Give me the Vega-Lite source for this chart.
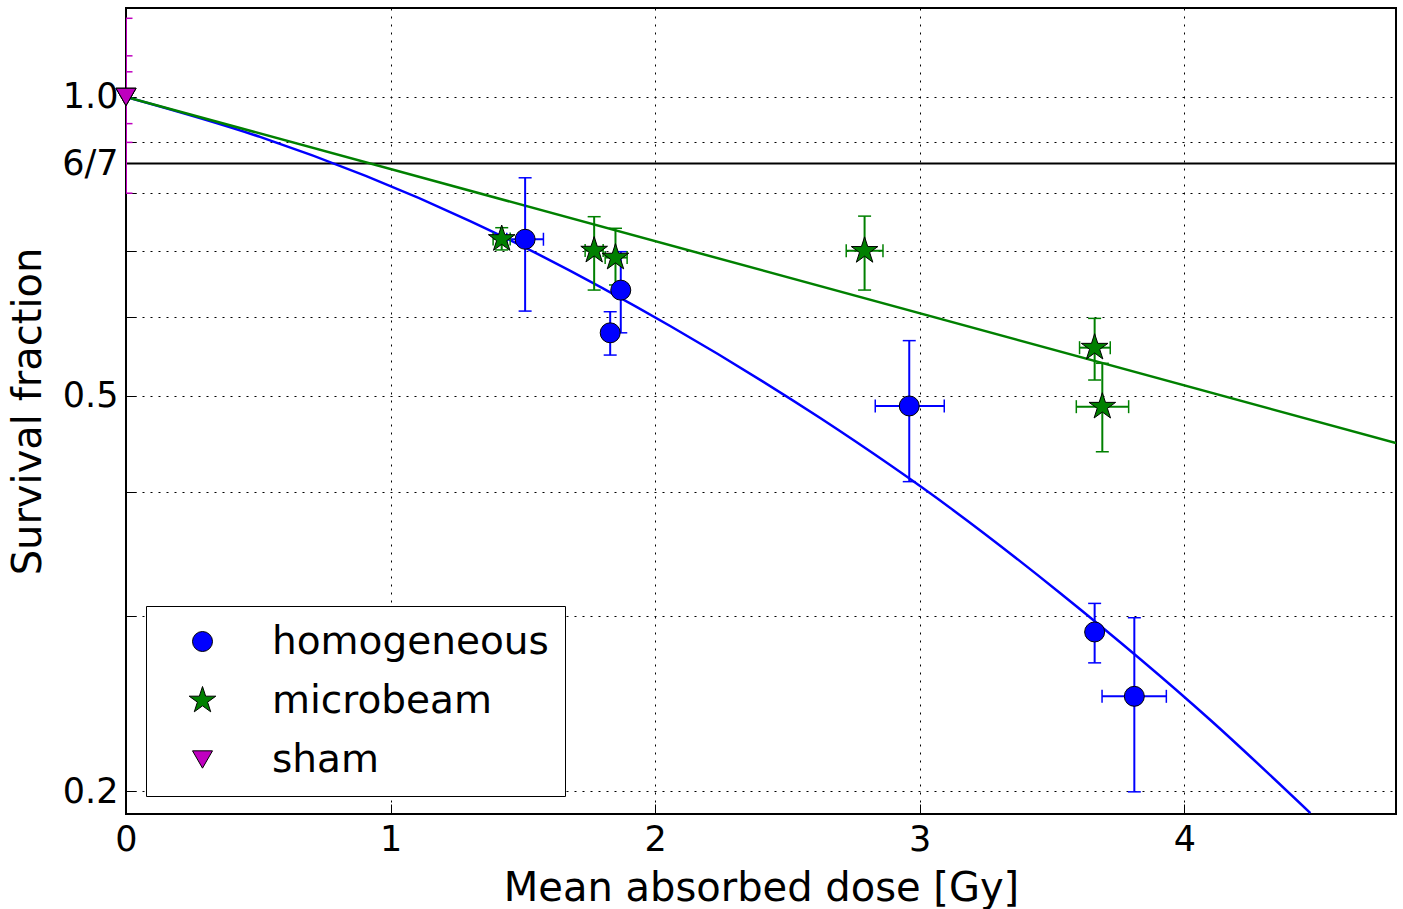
{
  "$schema": "https://vega.github.io/schema/vega-lite/v6.json",
  "autosize": {"type": "none"},
  "width": 1270,
  "height": 806,
  "padding": {"left": 126, "top": 8, "right": 7, "bottom": 95},
  "background": "white",
  "config": {
    "view": {"stroke": "black", "strokeWidth": 2},
    "font": "DejaVu Sans",
    "axis": {"labelFont": "DejaVu Sans", "titleFont": "DejaVu Sans", "titleFontWeight": "normal", "labelColor": "black", "titleColor": "black"}
  },
  "datasets": {
    "pts": [
      {"series": "homogeneous", "dose": 1.5085, "sf": 0.719, "sf_lo": 0.6087, "sf_hi": 0.8291, "dose_lo": 1.4392, "dose_hi": 1.5777},
      {"series": "homogeneous", "dose": 1.830, "sf": 0.5788, "sf_lo": 0.5497, "sf_hi": 0.6078, "dose_lo": null, "dose_hi": null},
      {"series": "homogeneous", "dose": 1.870, "sf": 0.639, "sf_lo": 0.5788, "sf_hi": 0.6986, "dose_lo": 1.8434, "dose_hi": 1.8963},
      {"series": "homogeneous", "dose": 2.9603, "sf": 0.4885, "sf_lo": 0.4099, "sf_hi": 0.5684, "dose_lo": 2.8318, "dose_hi": 3.0926},
      {"series": "homogeneous", "dose": 3.661, "sf": 0.2893, "sf_lo": 0.2693, "sf_hi": 0.3091, "dose_lo": null, "dose_hi": null},
      {"series": "homogeneous", "dose": 3.811, "sf": 0.2492, "sf_lo": 0.1997, "sf_hi": 0.2990, "dose_lo": 3.689, "dose_hi": 3.932},
      {"series": "microbeam", "dose": 1.420, "sf": 0.7194, "sf_lo": 0.7014, "sf_hi": 0.7385, "dose_lo": 1.3875, "dose_hi": 1.452},
      {"series": "microbeam", "dose": 1.7694, "sf": 0.7003, "sf_lo": 0.6391, "sf_hi": 0.7576, "dose_lo": 1.7353, "dose_hi": 1.8034},
      {"series": "microbeam", "dose": 1.850, "sf": 0.6891, "sf_lo": 0.6467, "sf_hi": 0.7375, "dose_lo": 1.811, "dose_hi": 1.894},
      {"series": "microbeam", "dose": 2.7915, "sf": 0.6999, "sf_lo": 0.6391, "sf_hi": 0.7586, "dose_lo": 2.7221, "dose_hi": 2.861},
      {"series": "microbeam", "dose": 3.661, "sf": 0.5592, "sf_lo": 0.5188, "sf_hi": 0.5985, "dose_lo": 3.604, "dose_hi": 3.720},
      {"series": "microbeam", "dose": 3.690, "sf": 0.4877, "sf_lo": 0.4393, "sf_hi": 0.5393, "dose_lo": 3.5917, "dose_hi": 3.7895},
      {"series": "sham", "dose": 0, "sf": 1.0, "sf_lo": 0.8, "sf_hi": 1.2, "dose_lo": null, "dose_hi": null},
      {"series": "sham", "dose": 0, "sf": 1.0, "sf_lo": 0.9, "sf_hi": 1.1, "dose_lo": null, "dose_hi": null},
      {"series": "sham", "dose": 0, "sf": 1.0, "sf_lo": 0.94, "sf_hi": 1.06, "dose_lo": null, "dose_hi": null}
    ],
    "fits": [
      {"series": "homogeneous", "dose": 0, "sf": 1.0},
      {"series": "homogeneous", "dose": 0.5066, "sf": 0.9115},
      {"series": "homogeneous", "dose": 1.3006, "sf": 0.750},
      {"series": "homogeneous", "dose": 2.0567, "sf": 0.588},
      {"series": "homogeneous", "dose": 2.6238, "sf": 0.475},
      {"series": "homogeneous", "dose": 3.1267, "sf": 0.3837},
      {"series": "homogeneous", "dose": 3.5312, "sf": 0.3165},
      {"series": "homogeneous", "dose": 4.0983, "sf": 0.2359},
      {"series": "homogeneous", "dose": 4.4764, "sf": 0.1901},
      {"series": "microbeam", "dose": 0, "sf": 1.0},
      {"series": "microbeam", "dose": 4.8, "sf": 0.4483}
    ],
    "ref": [{"label": "6/7"}]
  },
  "layer": [
    {
      "data": {"name": "ref"},
      "mark": {"type": "rule", "color": "black", "strokeWidth": 2},
      "encoding": {"y": {"datum": 0.857142857, "type": "quantitative"}}
    },
    {
      "data": {"name": "fits"},
      "mark": {"type": "line", "strokeWidth": 2.5, "clip": true, "interpolate": "monotone",
               "color": {"expr": "datum.series === 'homogeneous' ? '#0000ff' : datum.series === 'microbeam' ? '#008000' : '#bf00bf'"}},
      "encoding": {
        "x": {"field": "dose", "type": "quantitative"},
        "y": {"field": "sf", "type": "quantitative"},
        "detail": {"field": "series", "type": "nominal"}
      }
    },
    {
      "data": {"name": "pts"},
      "mark": {"type": "rule", "strokeWidth": 2, "clip": true,
               "color": {"expr": "datum.series === 'homogeneous' ? '#0000ff' : datum.series === 'microbeam' ? '#008000' : '#bf00bf'"}},
      "encoding": {
        "x": {"field": "dose", "type": "quantitative"},
        "y": {"field": "sf_lo", "type": "quantitative"},
        "y2": {"field": "sf_hi"}
      }
    },
    {
      "data": {"name": "pts"},
      "transform": [{"filter": "isValid(datum.dose_lo)"}],
      "mark": {"type": "rule", "strokeWidth": 2, "clip": true,
               "color": {"expr": "datum.series === 'homogeneous' ? '#0000ff' : datum.series === 'microbeam' ? '#008000' : '#bf00bf'"}},
      "encoding": {
        "x": {"field": "dose_lo", "type": "quantitative"},
        "x2": {"field": "dose_hi"},
        "y": {"field": "sf", "type": "quantitative"}
      }
    },
    {
      "data": {"name": "pts"},
      "mark": {"type": "tick", "orient": "horizontal", "size": 13, "thickness": 1.5, "clip": true, "opacity": 1,
               "color": {"expr": "datum.series === 'homogeneous' ? '#0000ff' : datum.series === 'microbeam' ? '#008000' : '#bf00bf'"}},
      "encoding": {
        "x": {"field": "dose", "type": "quantitative"},
        "y": {"field": "sf_lo", "type": "quantitative"}
      }
    },
    {
      "data": {"name": "pts"},
      "mark": {"type": "tick", "orient": "horizontal", "size": 13, "thickness": 1.5, "clip": true, "opacity": 1,
               "color": {"expr": "datum.series === 'homogeneous' ? '#0000ff' : datum.series === 'microbeam' ? '#008000' : '#bf00bf'"}},
      "encoding": {
        "x": {"field": "dose", "type": "quantitative"},
        "y": {"field": "sf_hi", "type": "quantitative"}
      }
    },
    {
      "data": {"name": "pts"},
      "transform": [{"filter": "isValid(datum.dose_lo)"}],
      "mark": {"type": "tick", "orient": "vertical", "size": 13, "thickness": 1.5, "clip": true, "opacity": 1,
               "color": {"expr": "datum.series === 'homogeneous' ? '#0000ff' : datum.series === 'microbeam' ? '#008000' : '#bf00bf'"}},
      "encoding": {
        "x": {"field": "dose_lo", "type": "quantitative"},
        "y": {"field": "sf", "type": "quantitative"}
      }
    },
    {
      "data": {"name": "pts"},
      "transform": [{"filter": "isValid(datum.dose_lo)"}],
      "mark": {"type": "tick", "orient": "vertical", "size": 13, "thickness": 1.5, "clip": true, "opacity": 1,
               "color": {"expr": "datum.series === 'homogeneous' ? '#0000ff' : datum.series === 'microbeam' ? '#008000' : '#bf00bf'"}},
      "encoding": {
        "x": {"field": "dose_hi", "type": "quantitative"},
        "y": {"field": "sf", "type": "quantitative"}
      }
    },
    {
      "data": {"name": "pts"},
      "mark": {"type": "point", "filled": true, "stroke": "black", "strokeWidth": 1, "opacity": 1, "size": 400},
      "encoding": {
        "x": {
          "field": "dose", "type": "quantitative",
          "scale": {"domain": [0, 4.8], "nice": false, "zero": false},
          "axis": {
            "title": "Mean absorbed dose [Gy]",
            "values": [0, 1, 2, 3, 4],
            "format": "d",
            "labelFontSize": 35,
            "titleFontSize": 40,
            "labelFlush": false,
            "labelOverlap": false,
            "domain": false,
            "tickSize": -10,
            "tickColor": "black",
            "tickWidth": 1,
            "labelPadding": 18,
            "titlePadding": 11,
            "grid": true,
            "gridColor": "black",
            "gridOpacity": 1,
            "gridWidth": 1,
            "gridDash": [2, 6]
          }
        },
        "y": {
          "field": "sf", "type": "quantitative",
          "scale": {"type": "log", "domain": [0.1897, 1.229], "nice": false},
          "axis": {
            "title": "Survival fraction",
            "values": [0.2, 0.3, 0.4, 0.5, 0.6, 0.7, 0.8, 0.9, 1.0, 0.857142857],
            "labelExpr": "abs(datum.value-0.2)<0.001 ? '0.2' : abs(datum.value-0.5)<0.001 ? '0.5' : abs(datum.value-1)<0.001 ? '1.0' : abs(datum.value-0.857142857)<0.001 ? '6/7' : ''",
            "labelFontSize": 35,
            "titleFontSize": 40,
            "labelOverlap": false,
            "labelFlush": false,
            "domain": false,
            "tickSize": -10,
            "tickColor": "black",
            "tickWidth": 1,
            "labelPadding": 18,
            "titlePadding": 13,
            "grid": true,
            "gridColor": "black",
            "gridOpacity": 1,
            "gridWidth": 1,
            "gridDash": [2, 6]
          }
        },
        "color": {
          "field": "series", "type": "nominal",
          "scale": {"domain": ["homogeneous", "microbeam", "sham"], "range": ["#0000ff", "#008000", "#bf00bf"]},
          "legend": {
            "orient": "none", "legendX": 20, "legendY": 598,
            "title": null,
            "labelFontSize": 39, "labelFont": "DejaVu Sans", "labelColor": "black", "labelLimit": 500,
            "padding": 16, "symbolOffset": 21, "labelOffset": 50, "rowPadding": 19,
            "strokeColor": "black", "fillColor": "white", "symbolSize": 400,
            "symbolStrokeColor": "black", "symbolStrokeWidth": 1, "symbolOpacity": 1
          }
        },
        "shape": {
          "field": "series", "type": "nominal",
          "scale": {"domain": ["homogeneous", "microbeam", "sham"], "range": ["circle", "M0,-1.4L0.3143,-0.4326L1.3315,-0.4326L0.5086,0.1652L0.8229,1.1326L0,0.5348L-0.8229,1.1326L-0.5086,0.1652L-1.3315,-0.4326L-0.3143,-0.4326Z", "triangle-down"]}
        }
      }
    }
  ]
}
